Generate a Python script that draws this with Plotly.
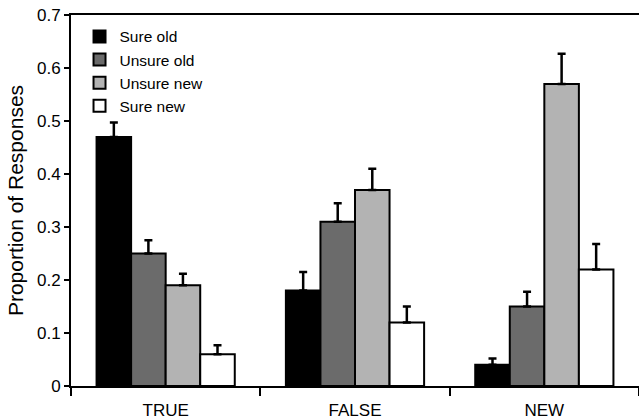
import plotly.graph_objects as go

categories = ["TRUE", "FALSE", "NEW"]
series_names = ["Sure old", "Unsure old", "Unsure new", "Sure new"]
sure_old = [0.47, 0.18, 0.04]
unsure_old = [0.25, 0.31, 0.15]
unsure_new = [0.19, 0.37, 0.57]
sure_new = [0.06, 0.12, 0.22]
err_sure_old = [0.027, 0.035, 0.012]
err_unsure_old = [0.025, 0.035, 0.028]
err_unsure_new = [0.022, 0.04, 0.057]
err_sure_new = [0.017, 0.03, 0.048]
y_ticks = [0, 0.1, 0.2, 0.3, 0.4, 0.5, 0.6, 0.7]
y_tick_labels = ["0", "0.1", "0.2", "0.3", "0.4", "0.5", "0.6", "0.7"]

values = [sure_old, unsure_old, unsure_new, sure_new]
errors = [err_sure_old, err_unsure_old, err_unsure_new, err_sure_new]
colors = ["#000000", "#6b6b6b", "#b3b3b3", "#ffffff"]

fig = go.Figure()
for name, vals, errs, col in zip(series_names, values, errors, colors):
    fig.add_trace(go.Bar(
        x=categories, y=vals, name=name,
        marker=dict(color=col, line=dict(color="black", width=2)),
        error_y=dict(type="data", array=errs, arrayminus=[0] * len(errs),
                     symmetric=False, color="black", thickness=2.5, width=4),
    ))

font_family = "Liberation Sans, Arial, sans-serif"
fig.update_layout(
    width=639, height=420,
    margin=dict(l=71, r=0, t=15, b=34, autoexpand=False),
    paper_bgcolor="white", plot_bgcolor="white",
    barmode="group", bargap=0.27, bargroupgap=0,
    font=dict(family=font_family, color="black", size=16),
    showlegend=True,
    legend=dict(x=0.015, y=0.987, xanchor="left", yanchor="top",
                bgcolor="rgba(0,0,0,0)", font=dict(size=15.5),
                tracegroupgap=0, itemwidth=30),
    xaxis=dict(type="category", showline=True, linecolor="black", linewidth=2,
               mirror=True, ticks="outside", tickson="boundaries", ticklen=8,
               tickwidth=2, tickcolor="black", showgrid=False,
               ticklabelstandoff=8, ticklabeloverflow="allow",
               tickfont=dict(size=17, family="Liberation Sans Narrow, Arial Narrow, Liberation Sans, sans-serif")),
    yaxis=dict(range=[0, 0.7], tickvals=y_ticks, ticktext=y_tick_labels,
               showline=True, linecolor="black", linewidth=2, ticks="outside",
               ticklen=5, tickwidth=2, tickcolor="black", showgrid=False,
               zeroline=False, tickfont=dict(size=17), ticklabeloverflow="allow",
               title=dict(text="Proportion of Responses", font=dict(size=21), standoff=8)),
)

fig.write_html("out.html", config={"displayModeBar": False},
               post_script="document.body.style.margin='0';document.body.style.overflow='hidden';")
